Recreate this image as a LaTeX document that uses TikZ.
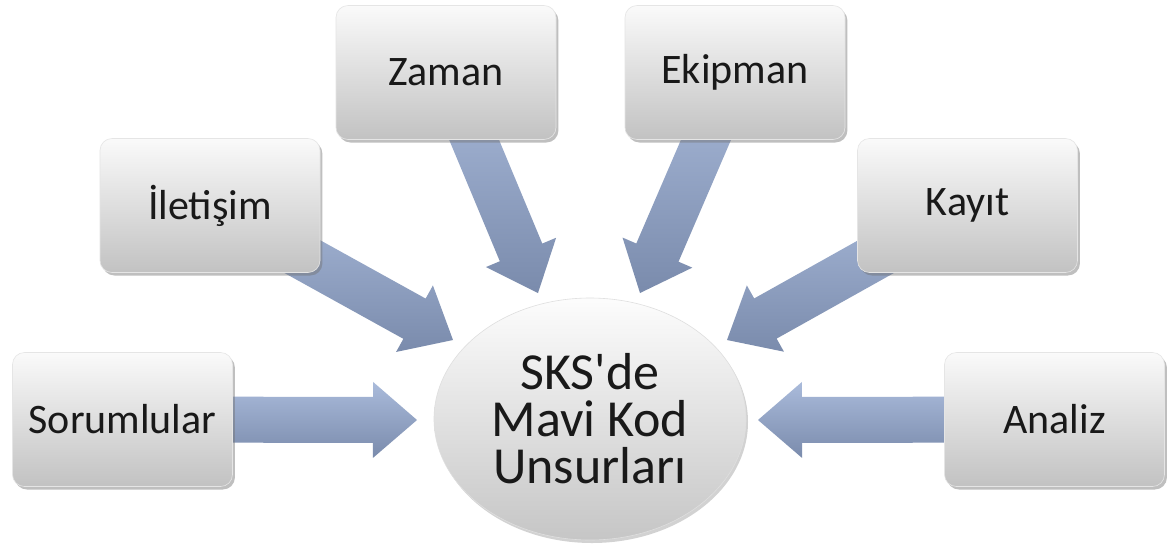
\documentclass[tikz,border=0pt]{standalone}
\usepackage{fontspec}
\setmainfont{Carlito}[Ligatures=TeXOff]
\usetikzlibrary{calc,shadows,shapes.geometric}
\definecolor{arrtop}{RGB}{170,187,219}
\definecolor{arrbot}{RGB}{122,139,172}
\definecolor{boxtop}{RGB}{250,250,250}
\definecolor{boxbot}{RGB}{194,194,194}
\newcommand\fatarrow[2]{%
  \coordinate (#2h) at ($(#2)!22pt!(#1)$);
  \path[arrowfill] ($(#1)!11.5pt!90:(#2)$) -- ($(#2h)!11.5pt!90:(#2)$) -- ($(#2h)!19pt!90:(#2)$) -- (#2)
    -- ($(#2h)!19pt!-90:(#2)$) -- ($(#2h)!11.5pt!-90:(#2)$) -- ($(#1)!11.5pt!-90:(#2)$) -- cycle;
}
\begin{document}
\begin{tikzpicture}[x=0.5pt,y=-0.5pt,
  arrowfill/.style={top color=arrtop,bottom color=arrbot,draw=none},
  itembox/.style={rectangle,rounded corners=6pt,minimum width=110pt,minimum height=67pt,
    top color=boxtop,bottom color=boxbot,draw=white!80!gray,line width=0.3pt,
    drop shadow={shadow xshift=1.2pt,shadow yshift=-1.5pt,opacity=0.45,fill=black!55},
    font=\fontsize{21}{24}\selectfont,text=black!90},
  hub/.style={ellipse,minimum width=156pt,minimum height=121pt,inner sep=0pt,
    top color=white!98!gray,bottom color=gray!45,draw=white!75!gray,line width=0.3pt,
    drop shadow={shadow xshift=1pt,shadow yshift=-1.5pt,opacity=0.35,fill=black!50},
    font=\fontsize{26}{23.5}\selectfont,align=center,text=black!90}]
\path[use as bounding box] (0,0) rectangle (1169,548);
\fill[white] (0,0) rectangle (1169,548);
% named positions
\coordinate (psor) at (122.5,419.5);
\coordinate (pilet) at (210,205.5);
\coordinate (pzam) at (446,72.5);
\coordinate (pekip) at (735,72.5);
\coordinate (pkay) at (967.5,205.5);
\coordinate (pana) at (1054.5,419.5);
% arrow tips
\coordinate (tsor) at (417,420);
\coordinate (tilet) at (453,340);
\coordinate (tzam) at (538,293);
\coordinate (tekip) at (640,293);
\coordinate (tkay) at (727,340);
\coordinate (tana) at (758,420);
% arrows
\fatarrow{psor}{tsor}
\fatarrow{pilet}{tilet}
\fatarrow{pzam}{tzam}
\fatarrow{pekip}{tekip}
\fatarrow{pkay}{tkay}
\fatarrow{pana}{tana}
% boxes
\node[itembox] (sor) at (psor) {Sorumlular};
\node[itembox] (ilet) at (pilet) {İletişim};
\node[itembox] (zam) at (pzam) {Zaman};
\node[itembox] (ekip) at (pekip) {Ekipman};
\node[itembox] (kay) at (pkay) {Kayıt};
\node[itembox] (ana) at (pana) {Analiz};
% hub
\node[hub] (c) at (590,419) {SKS'de\\Mavi Kod\\Unsurları};
\end{tikzpicture}
\end{document}
